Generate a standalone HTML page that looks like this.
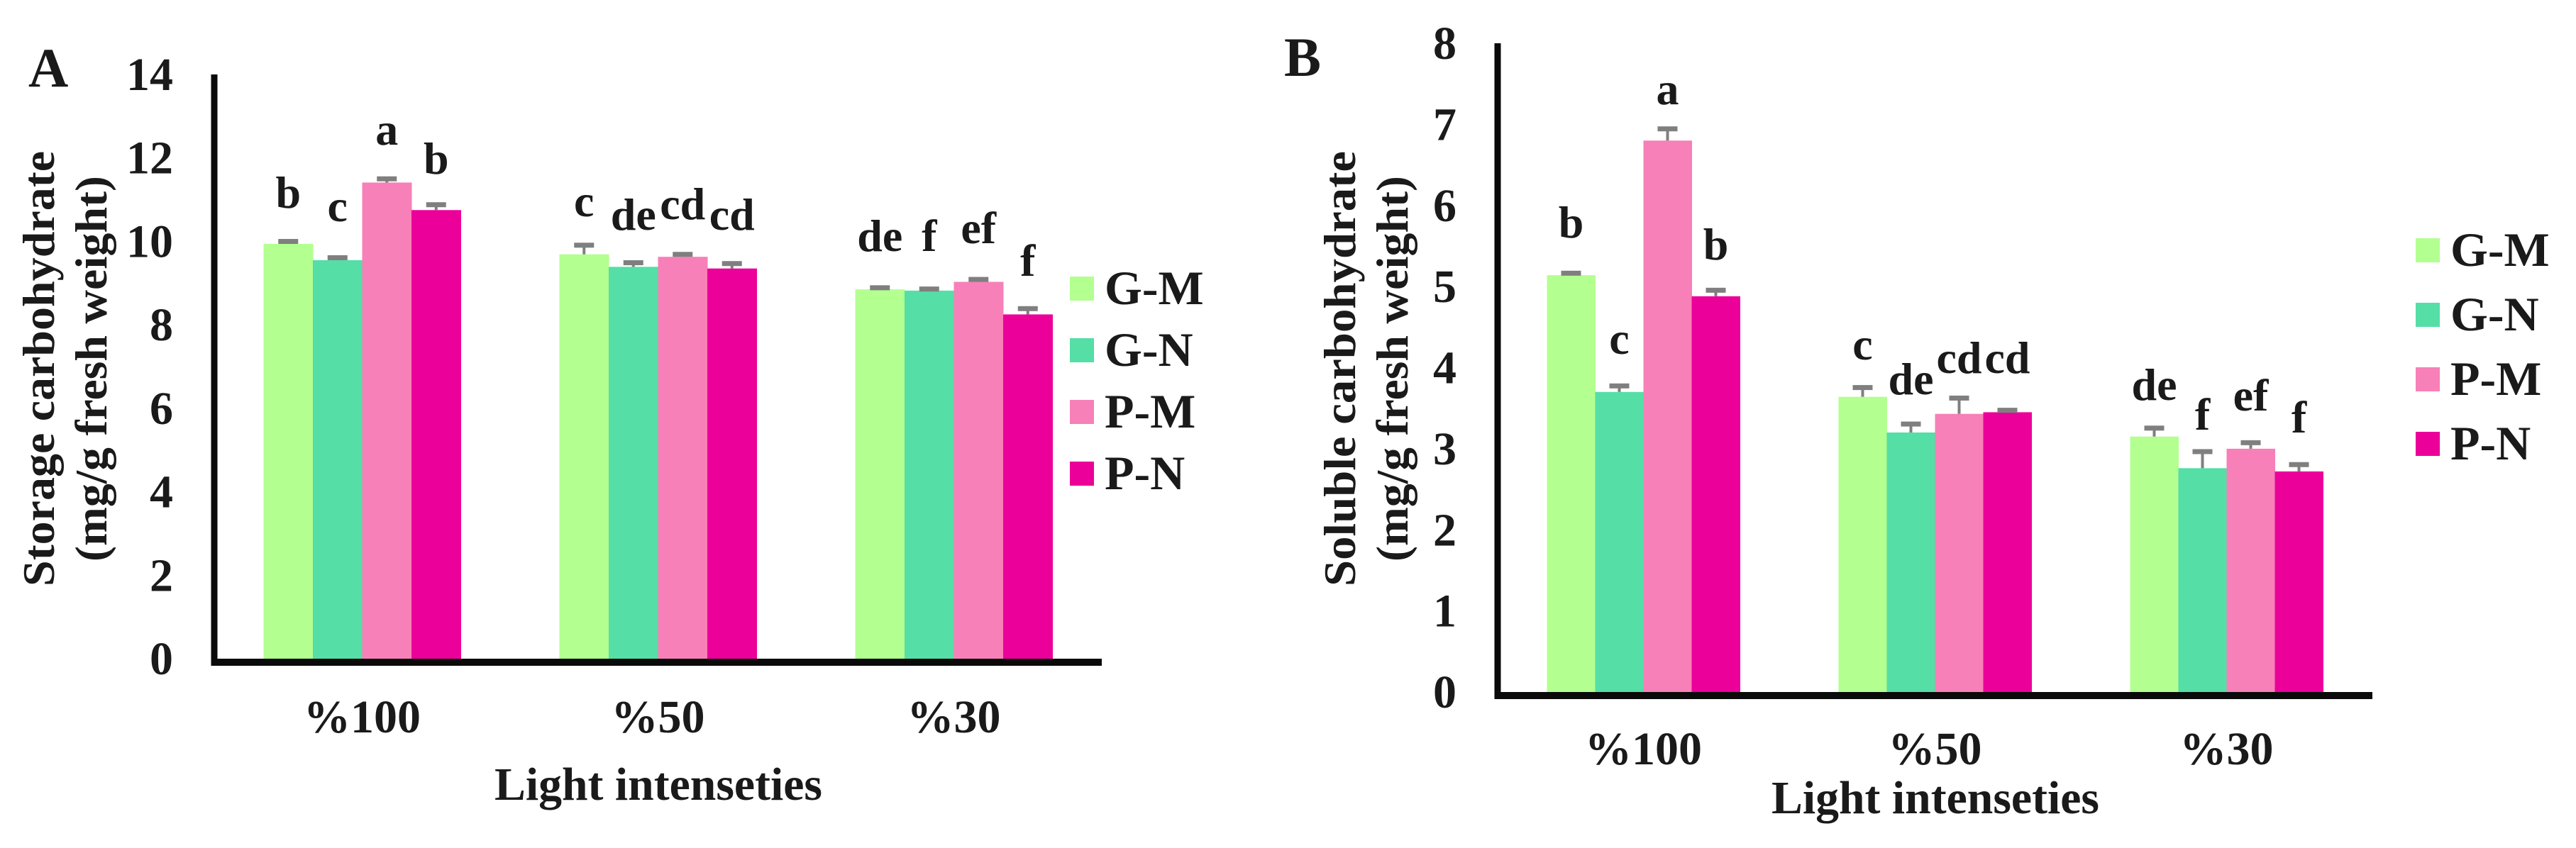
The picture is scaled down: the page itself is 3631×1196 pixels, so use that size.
<!DOCTYPE html>
<html><head><meta charset="utf-8"><style>
html,body{margin:0;padding:0;background:#fff;}
svg{display:block;}
text{font-family:"Liberation Serif","Times New Roman",serif;font-weight:bold;}
</style></head><body>
<svg id="fig" width="3631" height="1196" viewBox="0 0 3631 1196" xmlns="http://www.w3.org/2000/svg"></svg>
<script>
const categories = ["%100", "%50", "%30"];
const seriesNames = ["G-M", "G-N", "P-M", "P-N"];
const colors = ["#b3ff90", "#55dea6", "#f780b8", "#ec009a"];
// Chart A: storage carbohydrate
const aGM = [9.94, 9.69, 8.85];
const aGN = [9.55, 9.39, 8.82];
const aPM = [11.41, 9.63, 9.03];
const aPN = [10.75, 9.35, 8.25];
const aErrGM = [0.05, 0.21, 0.03];
const aErrGN = [0.05, 0.09, 0.03];
const aErrPM = [0.08, 0.05, 0.05];
const aErrPN = [0.12, 0.11, 0.13];
const aLetGM = ["b", "c", "de"];
const aLetGN = ["c", "de", "f"];
const aLetPM = ["a", "cd", "ef"];
const aLetPN = ["b", "cd", "f"];
const aTicks = [0, 2, 4, 6, 8, 10, 12, 14];
// Chart B: soluble carbohydrate
const bGM = [5.14, 3.64, 3.15];
const bGN = [3.70, 3.20, 2.76];
const bPM = [6.80, 3.43, 3.00];
const bPN = [4.88, 3.45, 2.72];
const bErrGM = [0.02, 0.11, 0.10];
const bErrGN = [0.07, 0.10, 0.20];
const bErrPM = [0.14, 0.19, 0.07];
const bErrPN = [0.07, 0.02, 0.08];
const bLetGM = ["b", "c", "de"];
const bLetGN = ["c", "de", "f"];
const bLetPM = ["a", "cd", "ef"];
const bLetPN = ["b", "cd", "f"];
const bTicks = [0, 1, 2, 3, 4, 5, 6, 7, 8];

const NS = "http://www.w3.org/2000/svg";
const svg = document.getElementById("fig");
function mk(tag, attrs, parent, txt) {
  const e = document.createElementNS(NS, tag);
  for (const k in attrs) e.setAttribute(k, attrs[k]);
  if (tag === "text") {
    e.setAttribute("font-family", "Liberation Serif, serif");
    e.setAttribute("font-weight", "bold");
  }
  if (txt !== undefined) e.textContent = txt;
  (parent || svg).appendChild(e);
  return e;
}

function chart(cfg) {
  const g = mk("g", {});
  
  
  const yS = v => cfg.y0 - (v / cfg.max) * (cfg.y0 - cfg.yTop);
  const catW = (cfg.xEnd - cfg.x0) / categories.length;
  const xC = i => cfg.x0 + catW * (i + 0.5);
  const vals = cfg.vals, errs = cfg.errs, lets = cfg.lets;
  for (let i = 0; i < categories.length; i++) {
    for (let s = 0; s < seriesNames.length; s++) {
      const x = xC(i) - 2 * cfg.bw + s * cfg.bw;
      const v = vals[s][i];
      const b = mk("rect", {x: x, y: yS(v), width: cfg.bw + 0.5, height: cfg.y0 - yS(v), fill: colors[s]}, g);
      
      
      const cx = x + cfg.bw / 2;
      const top = yS(v + errs[s][i]);
      const el = mk("line", {x1: cx, x2: cx, y1: yS(v), y2: top, stroke: "#7f7f7f", "stroke-width": 4}, g);
      
      
      const cap = mk("rect", {x: cx - 14, y: top - 4, width: 28, height: 7, fill: "#7f7f7f"}, g);
      
      
      const t = mk("text", {x: cx, y: cfg.letY[i][s], "font-size": 64, "text-anchor": "middle", fill: "#1a1a1a"}, g, lets[s][i]);
      
      
    }
    const cl = mk("text", {x: xC(i), y: cfg.catY, "font-size": 66, "text-anchor": "middle", fill: "#1a1a1a"}, g, categories[i]);
    
    
  }
  const ya = mk("rect", {x: cfg.x0 - 4.5, y: cfg.yTop, width: 9, height: cfg.y0 - cfg.yTop + 10, fill: "#0a0a0a"}, g);
  
  
  const xa = mk("rect", {x: cfg.x0 - 4.5, y: cfg.y0, width: cfg.xEnd - cfg.x0 + 4.5, height: 10, fill: "#0a0a0a"}, g);
  
  
  for (const t of cfg.ticks) {
    const tl = mk("text", {x: cfg.tickX, y: yS(t) + 22, "font-size": 66, "text-anchor": "end", fill: "#1a1a1a"}, g, String(t));
    
    
  }
  for (let s = 0; s < seriesNames.length; s++) {
    const ly = cfg.legY + s * cfg.legStep;
    const sw = mk("rect", {x: cfg.legX, y: ly - 39, width: 34, height: 34, fill: colors[s]}, g);
    
    
    const lt = mk("text", {x: cfg.legX + 49, y: ly, "font-size": 68, fill: "#1a1a1a"}, g, seriesNames[s]);
    
    
  }
  const xt = mk("text", {x: cfg.xtX, y: cfg.xtY, "font-size": 66, "text-anchor": "middle", fill: "#1a1a1a", textLength: 462, lengthAdjust: "spacingAndGlyphs"}, g, "Light intenseties");
  
  
  const y1 = mk("text", {transform: "translate(" + cfg.yt1X + "," + cfg.yt1C + ") rotate(-90)", "font-size": 64, "text-anchor": "middle", fill: "#1a1a1a", textLength: 614, lengthAdjust: "spacingAndGlyphs"}, g, cfg.yTitle1);
  
  
  const y2 = mk("text", {transform: "translate(" + cfg.yt2X + "," + cfg.yt2C + ") rotate(-90)", "font-size": 64, "text-anchor": "middle", fill: "#1a1a1a", textLength: 544, lengthAdjust: "spacingAndGlyphs"}, g, "(mg/g fresh weight)");
  
  
  const pl = mk("text", {x: cfg.panelX, y: cfg.panelY, "font-size": 78, fill: "#1a1a1a"}, g, cfg.panel);
  
  
}

chart({
  name: "chart-a", panel: "A", panelX: 40, panelY: 122,
  x0: 302, xEnd: 1553, y0: 929, yTop: 105, max: 14, bw: 69.5,
  vals: [aGM, aGN, aPM, aPN], errs: [aErrGM, aErrGN, aErrPM, aErrPN], lets: [aLetGM, aLetGN, aLetPM, aLetPN],
  ticks: aTicks, tickX: 244, catY: 1033,
  letY: [[293, 312, 204, 245], [305, 324, 309, 324], [354, 354, 343, 389]],
  legX: 1508, legY: 429, legStep: 87,
  xtX: 928, xtY: 1128,
  yTitle1: "Storage carbohydrate", yt1X: 76, yt1C: 520, yt2X: 150, yt2C: 520
});
chart({
  name: "chart-b", panel: "B", panelX: 1810, panelY: 107,
  x0: 2111, xEnd: 3344, y0: 976, yTop: 61, max: 8, bw: 68,
  vals: [bGM, bGN, bPM, bPN], errs: [bErrGM, bErrGN, bErrPM, bErrPN], lets: [bLetGM, bLetGN, bLetPM, bLetPN],
  ticks: bTicks, tickX: 2053, catY: 1078,
  letY: [[335, 499, 147, 366], [507, 556, 526, 526], [564, 606, 579, 610]],
  legX: 3405, legY: 375, legStep: 91,
  xtX: 2728, xtY: 1147,
  yTitle1: "Soluble carbohydrate", yt1X: 1910, yt1C: 520, yt2X: 1984, yt2C: 520
});
</script>
</body></html>
